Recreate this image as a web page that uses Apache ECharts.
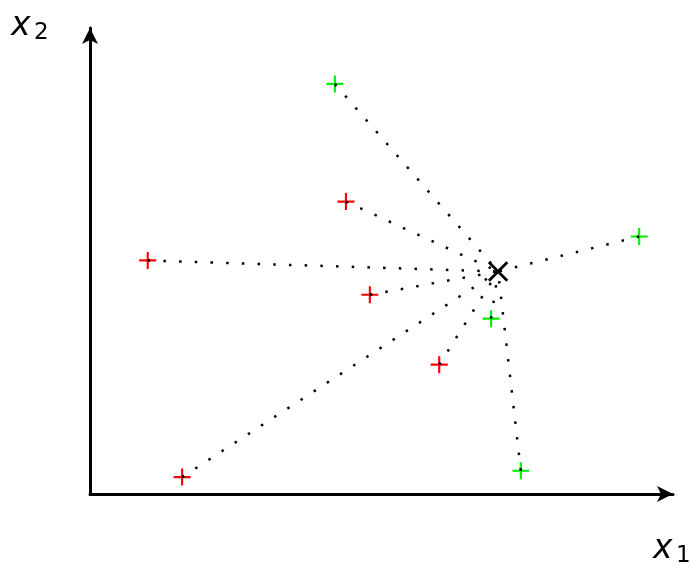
<!DOCTYPE html>
<html>
<head>
<meta charset="utf-8">
<script src="https://cdn.jsdelivr.net/npm/echarts@6/dist/echarts.min.js"></script>
<style>
  html, body { margin: 0; padding: 0; background: #fff; }
  #chart { width: 693px; height: 572px; }
</style>
</head>
<body>
<div id="chart"></div>
<script>
// points of the two classes and the query point (x1, x2)
const redX = [4.39, 0.99, 4.80, 5.99, 1.58];
const redY = [5.02, 4.01, 3.42, 2.22, 0.29];
const greenX = [4.20, 9.42, 6.88, 7.39];
const greenY = [7.04, 4.42, 3.01, 0.40];
const queryPoint = [7.00, 3.82];

const plusPath = 'path://M7,0H9V7H16V9H9V16H7V9H0V7H7Z';
const crossPath = 'path://M10.75,0H13.25V10.75H24V13.25H13.25V24H10.75V13.25H0V10.75H10.75Z';

const red = redX.map((x, i) => [x, redY[i]]);
const green = greenX.map((x, i) => [x, greenY[i]]);

// dotted segment from every point to the query point
const links = red.concat(green).map(p => ({ coords: [p, queryPoint] }));

const chart = echarts.init(document.getElementById('chart'));

const axisLine = {
  show: true,
  symbol: ['none', 'arrow'],
  symbolSize: [12, 16],
  lineStyle: { color: '#000', width: 3 }
};

chart.setOption({
  animation: false,
  grid: { left: 90, right: 20, top: 28, bottom: 78 },
  xAxis: {
    type: 'value', min: 0, max: 10,
    axisLine: axisLine,
    axisTick: { show: false }, axisLabel: { show: false }, splitLine: { show: false }
  },
  yAxis: {
    type: 'value', min: 0, max: 8,
    axisLine: axisLine,
    axisTick: { show: false }, axisLabel: { show: false }, splitLine: { show: false }
  },
  graphic: [
    { type: 'text', left: 11, top: 10, style: { text: 'x', font: 'italic 33px "DejaVu Sans"', fill: '#000' } },
    { type: 'text', left: 34, top: 22, style: { text: '2', font: '23px "DejaVu Sans"', fill: '#000' } },
    { type: 'text', left: 653, top: 533, style: { text: 'x', font: 'italic 33px "DejaVu Sans"', fill: '#000' } },
    { type: 'text', left: 676, top: 545, style: { text: '1', font: '23px "DejaVu Sans"', fill: '#000' } }
  ],
  series: [
    {
      type: 'scatter',
      data: red,
      symbol: plusPath,
      symbolSize: 17,
      z: 2,
      itemStyle: { color: '#ff0000', opacity: 1 }
    },
    {
      type: 'scatter',
      data: green,
      symbol: plusPath,
      symbolSize: 17,
      z: 2,
      itemStyle: { color: '#00ee00', opacity: 1 }
    },
    {
      type: 'scatter',
      data: [queryPoint],
      symbol: crossPath,
      symbolSize: 26,
      symbolRotate: 45,
      z: 5,
      itemStyle: { color: '#000', opacity: 1 }
    },
    {
      type: 'lines',
      coordinateSystem: 'cartesian2d',
      data: links,
      silent: true,
      z: 4,
      lineStyle: { color: '#000', width: 2.5, type: [2.5, 13.2], cap: 'butt', opacity: 1 }
    }
  ]
});
</script>
</body>
</html>
